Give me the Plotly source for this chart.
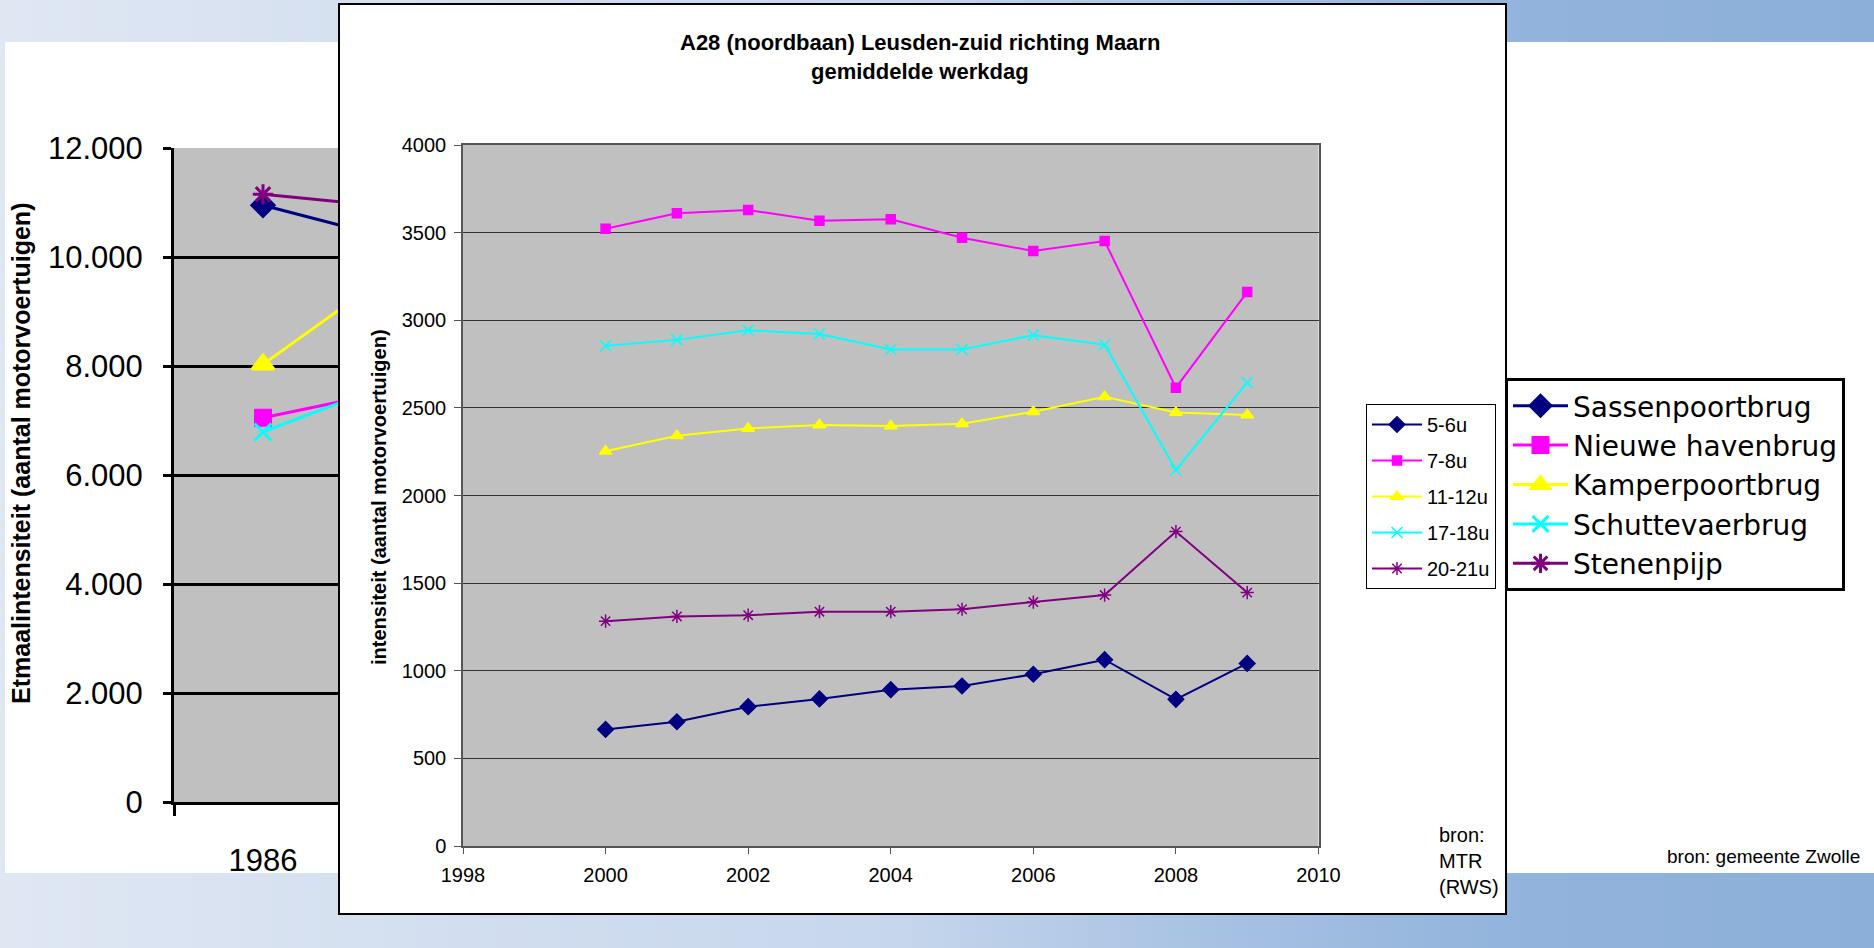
import plotly.graph_objects as go

W, H = 1874, 948

# ---------------- foreground chart data (A28 Leusden-zuid) ----------------
years = [2000, 2001, 2002, 2003, 2004, 2005, 2006, 2007, 2008, 2009]
fg_names = ["5-6u", "7-8u", "11-12u", "17-18u", "20-21u"]
s_5_6 = [665, 709, 795, 839, 892, 913, 980, 1063, 837, 1042]
s_7_8 = [3522, 3610, 3629, 3568, 3576, 3471, 3395, 3452, 2615, 3161]
s_11_12 = [2252, 2341, 2382, 2402, 2396, 2410, 2478, 2564, 2474, 2459]
s_17_18 = [2854, 2888, 2943, 2922, 2833, 2833, 2915, 2860, 2146, 2644]
s_20_21 = [1283, 1310, 1317, 1337, 1337, 1351, 1392, 1432, 1794, 1446]
fg_xticks = [1998, 2000, 2002, 2004, 2006, 2008, 2010]

# ---------------- background chart data (Zwolle bruggen) ----------------
bg_years = ["1986", "1996"]
bg_visible_years = ["1986"]
bg_names = ["Sassenpoortbrug", "Nieuwe havenbrug", "Kamperpoortbrug",
            "Schuttevaerbrug", "Stenenpijp"]
bg_sassenpoort = [10950, 10100]
bg_nieuwehaven = [7050, 7730]
bg_kamperpoort = [8030, 10370]
bg_schuttevaer = [6790, 8030]
bg_stenenpijp = [11150, 10830]
bg_yticks = [0, 2000, 4000, 6000, 8000, 10000, 12000]
bg_yticklabels = ["0", "2.000", "4.000", "6.000", "8.000", "10.000", "12.000"]

FONT = "Arial, Liberation Sans, sans-serif"


def px(x):
    return x / W


def py(y):
    return 1 - y / H


fig = go.Figure()

# background chart traces
bg_series = [bg_sassenpoort, bg_nieuwehaven, bg_kamperpoort, bg_schuttevaer, bg_stenenpijp]
bg_colors = ["#000080", "#FF00FF", "#FFFF00", "#00FFFF", "#800080"]
bg_symbols = ["diamond", "square", "triangle-up", "x-thin", "asterisk"]
bg_sizes = [17, 15, 19, 17, 17]
for name, vals, col, sym, sz in zip(bg_names, bg_series, bg_colors, bg_symbols, bg_sizes):
    fig.add_trace(go.Scatter(
        x=bg_years, y=vals, name=name, mode="lines+markers",
        line=dict(color=col, width=3),
        marker=dict(symbol=sym, size=sz, color=col, line=dict(color=col, width=3)),
        xaxis="x", yaxis="y", legend="legend2", hoverinfo="skip"))

# empty trace for the white cover panel subplot
fig.add_trace(go.Scatter(x=[], y=[], xaxis="x2", yaxis="y2", showlegend=False,
                         hoverinfo="skip"))

# foreground traces
fg_series = [s_5_6, s_7_8, s_11_12, s_17_18, s_20_21]
fg_colors = ["#000080", "#FF00FF", "#FFFF00", "#00FFFF", "#800080"]
fg_symbols = ["diamond", "square", "triangle-up", "x-thin", "asterisk"]
fg_sizes = [12, 9, 11, 11, 11]
for name, vals, col, sym, sz in zip(fg_names, fg_series, fg_colors, fg_symbols, fg_sizes):
    fig.add_trace(go.Scatter(
        x=years, y=vals, name=name, mode="lines+markers",
        line=dict(color=col, width=2),
        marker=dict(symbol=sym, size=sz, color=col, line=dict(color=col, width=1.5)),
        xaxis="x3", yaxis="y3", legend="legend", legendgroup=name,
        hoverinfo="skip"))

# slide background gradient bands
stops = [(0, (0xdf, 0xe7, 0xf3)), (900, (0xc6, 0xd6, 0xec)), (1200, (0xa8, 0xc2, 0xe3)),
         (1500, (0x93, 0xb4, 0xdc)), (1874, (0x8b, 0xaf, 0xd9))]


def grad(x):
    for (xa, ca), (xb, cb) in zip(stops[:-1], stops[1:]):
        if xa <= x <= xb:
            t = (x - xa) / (xb - xa)
            return "rgb(%d,%d,%d)" % tuple(round(a + (b - a) * t) for a, b in zip(ca, cb))
    return "rgb(%d,%d,%d)" % stops[-1][1]


shapes = []
step = 16
for x0 in range(0, W, step):
    c = grad(x0 + step / 2)
    for (ya, yb) in [(0, 42), (873, H)]:
        shapes.append(dict(type="rect", xref="paper", yref="paper", layer="below",
                           x0=px(x0), x1=px(min(x0 + step + 1, W)),
                           y0=py(yb), y1=py(ya), fillcolor=c, line=dict(width=0)))
shapes.append(dict(type="rect", xref="paper", yref="paper", layer="below",
                   x0=0, x1=px(5), y0=py(873), y1=py(42),
                   fillcolor="#dfe7f3", line=dict(width=0)))
# white panel of the foreground chart (in the cover subplot)
shapes.append(dict(type="rect", xref="x2", yref="y2", layer="below",
                   x0=-0.1, x1=1.1, y0=-0.1, y1=1.1,
                   fillcolor="white", line=dict(width=0)))
# border of the foreground chart panel
shapes.append(dict(type="rect", xref="paper", yref="paper", layer="above",
                   x0=px(339), x1=px(1506), y0=py(914), y1=py(4),
                   fillcolor="rgba(0,0,0,0)", line=dict(color="black", width=2)))

annotations = [
    dict(text="<b>A28 (noordbaan) Leusden-zuid richting Maarn</b>", x=px(920), y=py(43),
         font=dict(size=22)),
    dict(text="<b>gemiddelde werkdag</b>", x=px(920), y=py(72), font=dict(size=22)),
    dict(text="<b>intensiteit (aantal motorvoertuigen)</b>", x=px(379), y=py(497),
         textangle=-90, font=dict(size=20)),
    dict(text="<b>Etmaalintensiteit (aantal motorvoertuigen)</b>", x=px(21), y=py(454),
         textangle=-90, font=dict(size=25)),
    dict(text="bron:<br>MTR<br>(RWS)", x=px(1437), y=py(861), xanchor="left",
         align="left", font=dict(size=20)),
    dict(text="bron: gemeente Zwolle", x=px(1862), y=py(856), xanchor="right",
         font=dict(size=19)),
]
for a in annotations:
    a.update(xref="paper", yref="paper", showarrow=False)
    a.setdefault("xanchor", "center")
    a.setdefault("yanchor", "middle")
    a["font"].update(family=FONT, color="black")

fig.update_layout(
    width=W, height=H, autosize=False,
    margin=dict(l=0, r=0, t=0, b=0, pad=0, autoexpand=False),
    paper_bgcolor="white", plot_bgcolor="#c0c0c0",
    font=dict(family=FONT, color="black"),
    hovermode=False,
    showlegend=True,
    shapes=shapes,
    annotations=annotations,
    # background chart axes
    xaxis=dict(domain=[px(174), px(530)], anchor="y", type="category",
               range=[-0.5, 1.5], tickvals=bg_visible_years,
               showline=True, linecolor="black", linewidth=3,
               ticks="outside", tickson="boundaries", ticklen=11, tickwidth=3,
               tickcolor="black", showgrid=False, tickfont=dict(size=31),
               ticklabelstandoff=29, fixedrange=True),
    yaxis=dict(domain=[py(802), py(148)], anchor="x", range=[0, 12000],
               tickvals=bg_yticks, ticktext=bg_yticklabels,
               showgrid=True, gridcolor="black", gridwidth=3, zeroline=False,
               showline=True, linecolor="black", linewidth=3,
               ticks="outside", ticklen=8, tickwidth=3, tickcolor="black",
               tickfont=dict(size=31), ticklabelstandoff=14, fixedrange=True),
    # cover panel axes
    xaxis2=dict(domain=[px(339), px(1506)], anchor="y2", range=[0, 1], visible=False,
                fixedrange=True),
    yaxis2=dict(domain=[py(914), py(4)], anchor="x2", range=[0, 1], visible=False,
                fixedrange=True),
    # foreground chart axes
    xaxis3=dict(domain=[px(463), px(1318.5)], anchor="y3", range=[1998, 2010],
                tickvals=fg_xticks, showline=True, linecolor="#555555", linewidth=1.5,
                mirror=True, ticks="outside", ticklen=6, tickcolor="#555555",
                showgrid=False, zeroline=False, tickfont=dict(size=20),
                ticklabelstandoff=4, fixedrange=True),
    yaxis3=dict(domain=[py(846), py(145)], anchor="x3", range=[0, 4000], dtick=500,
                showline=True, linecolor="#555555", linewidth=1.5, mirror=True,
                ticks="outside", ticklen=7, tickcolor="#555555",
                showgrid=True, gridcolor="#333333", gridwidth=1, zeroline=False,
                tickfont=dict(size=20), ticklabelstandoff=4, fixedrange=True),
    legend=dict(x=px(1366), y=py(404), xanchor="left", yanchor="top",
                bgcolor="white", bordercolor="black", borderwidth=1,
                font=dict(size=20), tracegroupgap=7, itemwidth=50),
    legend2=dict(x=px(1505), y=py(378), xanchor="left", yanchor="top",
                 bgcolor="white", bordercolor="black", borderwidth=3,
                 font=dict(size=28, family="DejaVu Sans, sans-serif"), itemwidth=55),
)

fig.write_html("out.html", post_script="document.body.style.margin='0';",
               config={"displayModeBar": False})
